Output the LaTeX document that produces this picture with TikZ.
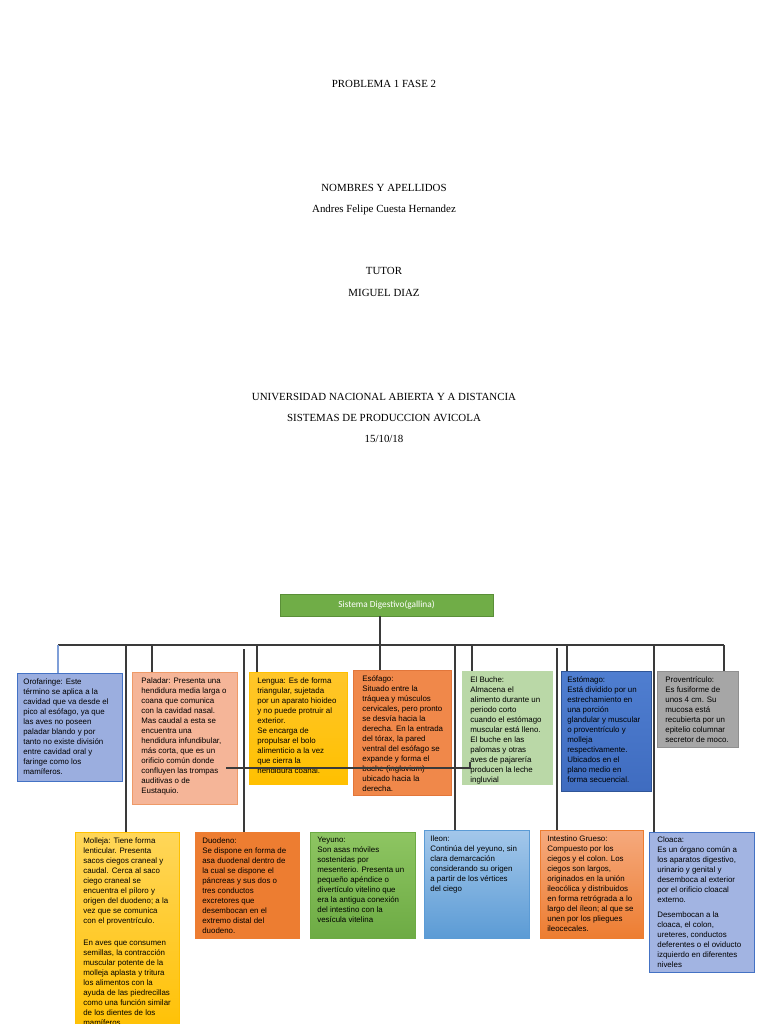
\documentclass[tikz,border=0pt]{standalone}
\usepackage{fontspec}
\setmainfont{Liberation Serif}
\setsansfont{Liberation Sans}
\newfontfamily\calibfont{Carlito}
\usetikzlibrary{positioning}

\definecolor{lineg}{HTML}{3A3A3A}
\definecolor{oroline}{HTML}{7F9FD8}
\definecolor{rootfill}{HTML}{70AD47}
\definecolor{rootline}{HTML}{5A8F38}
\definecolor{orofill}{HTML}{9BAEDF}
\definecolor{blueline}{HTML}{4472C4}
\definecolor{palfill}{HTML}{F5B598}
\definecolor{palline}{HTML}{EE9A68}
\definecolor{goldtop}{HTML}{FFC62A}
\definecolor{goldbot}{HTML}{FFC000}
\definecolor{molltop}{HTML}{FFD659}
\definecolor{esofill}{HTML}{F0884A}
\definecolor{esoline}{HTML}{E2763A}
\definecolor{bucfill}{HTML}{BAD8A7}
\definecolor{esttop}{HTML}{4F7ED0}
\definecolor{estbot}{HTML}{3F6CC0}
\definecolor{estline}{HTML}{2F5597}
\definecolor{profill}{HTML}{A6A6A6}
\definecolor{proline}{HTML}{909090}
\definecolor{duofill}{HTML}{ED7D31}
\definecolor{yeytop}{HTML}{8EC562}
\definecolor{yeybot}{HTML}{6DAB44}
\definecolor{iletop}{HTML}{A3C7EA}
\definecolor{ilebot}{HTML}{5B9BD5}
\definecolor{inttop}{HTML}{F5A97D}
\definecolor{intbot}{HTML}{ED7D31}
\definecolor{clofill}{HTML}{A2B4E2}

\begin{document}
\begin{tikzpicture}[x=0.02cm,y=-0.02cm,
  box/.style={draw,anchor=north west,inner sep=0,line width=0.5pt},
  note/.style={anchor=north west,inner sep=0,align=left,
    font=\sffamily\fontsize{4.5}{5.7}\selectfont},
  head/.style={anchor=base,inner sep=0,font=\fontsize{6.2}{7}\selectfont},
  link/.style={draw=lineg,line width=0.6pt}]

  \fill[white] (0,0) rectangle (768,1024);
  \useasboundingbox (0,0) rectangle (768,1024);

  % portada
  \node[head] (prob) at (384,87.6) {PROBLEMA 1 FASE 2};
  \node[head] (nomb) at (384,191.6) {NOMBRES Y APELLIDOS};
  \node[head] (alum) at (384,212.5) {Andres Felipe Cuesta Hernandez};
  \node[head] (tuto) at (384,274.6) {TUTOR};
  \node[head] (prof) at (384,296.6) {MIGUEL DIAZ};
  \node[head] (univ) at (384,400.6) {UNIVERSIDAD NACIONAL ABIERTA Y A DISTANCIA};
  \node[head] (curs) at (384,421.6) {SISTEMAS DE PRODUCCION AVICOLA};
  \node[head] (fech) at (384,442.6) {15/10/18};

  % raiz
  \node[box,fill=rootfill,draw=rootline,minimum width=4.26cm,minimum height=0.44cm,
    text=white,font=\calibfont\fontsize{5.3}{6}\selectfont,anchor=center]
    (root) at (386.5,605) {Sistema Digestivo(gallina)};

  % primera fila
  \node[box,fill=orofill,draw=blueline,minimum width=2.10cm,minimum height=2.16cm] (oro) at (17,673) {};
  \node[note] at ([shift={(6,5)}]oro.north west) {Orofaringe: Este\\término se aplica a la\\cavidad que va desde el\\pico al esófago, ya que\\las aves no poseen\\paladar blando y por\\tanto no existe división\\entre cavidad oral y\\faringe como los\\mamíferos.};

  \node[box,fill=palfill,draw=palline,minimum width=2.10cm,minimum height=2.64cm] (pal) at (132,672) {};
  \node[note] at ([shift={(9,5)}]pal.north west) {Paladar: Presenta una\\hendidura media larga o\\coana que comunica\\con la cavidad nasal.\\Mas caudal a esta se\\encuentra una\\hendidura infundibular,\\más corta, que es un\\orificio común donde\\confluyen las trompas\\auditivas o de\\Eustaquio.};

  \node[box,top color=goldtop,bottom color=goldbot,draw=goldbot,minimum width=1.96cm,minimum height=2.24cm] (len) at (249,672) {};
  \node[note] at ([shift={(8,5)}]len.north west) {Lengua: Es de forma\\triangular, sujetada\\por un aparato hioideo\\y no puede protruir al\\exterior.\\Se encarga de\\propulsar el bolo\\alimenticio a la vez\\que cierra la\\hendidura coanal.};

  \node[box,fill=esofill,draw=esoline,minimum width=1.96cm,minimum height=2.50cm] (eso) at (353,670) {};
  \node[note] at ([shift={(9,5)}]eso.north west) {Esófago:\\Situado entre la\\tráquea y músculos\\cervicales, pero pronto\\se desvía hacia la\\derecha. En la entrada\\del tórax, la pared\\ventral del esófago se\\expande y forma el\\buche (ingluvium)\\ubicado hacia la\\derecha.};

  \node[box,fill=bucfill,draw=bucfill,minimum width=1.80cm,minimum height=2.26cm] (buc) at (462,671) {};
  \node[note] at ([shift={(8,5)}]buc.north west) {El Buche:\\Almacena el\\alimento durante un\\periodo corto\\cuando el estómago\\muscular está lleno.\\El buche en las\\palomas y otras\\aves de pajarería\\producen la leche\\ingluvial};

  \node[box,top color=esttop,bottom color=estbot,draw=estline,minimum width=1.80cm,minimum height=2.40cm] (est) at (561,671) {};
  \node[note] at ([shift={(6,5)}]est.north west) {Estómago:\\Está dividido por un\\estrechamiento en\\una porción\\glandular y muscular\\o proventrículo y\\molleja\\respectivamente.\\Ubicados en el\\plano medio en\\forma secuencial.};

  \node[box,fill=profill,draw=proline,minimum width=1.62cm,minimum height=1.52cm] (pro) at (657,671) {};
  \node[note] at ([shift={(8,5)}]pro.north west) {Proventrículo:\\Es fusiforme de\\unos 4 cm. Su\\mucosa está\\recubierta por un\\epitelio columnar\\secretor de moco.};

  % segunda fila
  \node[box,top color=molltop,bottom color=goldbot,draw=goldbot,minimum width=2.08cm,minimum height=4.16cm] (mol) at (75,832) {};
  \node[note] at ([shift={(8,5)}]mol.north west) {Molleja: Tiene forma\\lenticular. Presenta\\sacos ciegos craneal y\\caudal. Cerca al saco\\ciego craneal se\\encuentra el píloro y\\origen del duodeno; a la\\vez que se comunica\\con el proventrículo.\\[7pt]En aves que consumen\\semillas, la contracción\\muscular potente de la\\molleja aplasta y tritura\\los alimentos con la\\ayuda de las piedrecillas\\como una función similar\\de los dientes de los\\mamíferos.};

  \node[box,fill=duofill,draw=duofill,minimum width=2.08cm,minimum height=2.12cm] (duo) at (195,832) {};
  \node[note] at ([shift={(7,5)}]duo.north west) {Duodeno:\\Se dispone en forma de\\asa duodenal dentro de\\la cual se dispone el\\páncreas y sus dos o\\tres conductos\\excretores que\\desembocan en el\\extremo distal del\\duodeno.};

  \node[box,top color=yeytop,bottom color=yeybot,draw=yeybot,minimum width=2.10cm,minimum height=2.12cm] (yey) at (310,832) {};
  \node[note] at ([shift={(7,5)}]yey.north west) {Yeyuno:\\Son asas móviles\\sostenidas por\\mesenterio. Presenta un\\pequeño apéndice o\\divertículo vitelino que\\era la antigua conexión\\del intestino con la\\vesícula vitelina};

  \node[box,top color=iletop,bottom color=ilebot,draw=ilebot,minimum width=2.10cm,minimum height=2.16cm] (ile) at (424,830) {};
  \node[note] at ([shift={(6,5)}]ile.north west) {Ileon:\\Continúa del yeyuno, sin\\clara demarcación\\considerando su origen\\a partir de los vértices\\del ciego};

  \node[box,top color=inttop,bottom color=intbot,draw=intbot,minimum width=2.06cm,minimum height=2.16cm] (int) at (540,830) {};
  \node[note] at ([shift={(7,5)}]int.north west) {Intestino Grueso:\\Compuesto por los\\ciegos y el colon. Los\\ciegos son largos,\\originados en la unión\\ileocólica y distribuidos\\en forma retrógrada a lo\\largo del íleon; al que se\\unen por los pliegues\\ileocecales.};

  \node[box,fill=clofill,draw=blueline,minimum width=2.10cm,minimum height=2.80cm] (clo) at (649,832) {};
  \node[note] at ([shift={(8,4)}]clo.north west) {Cloaca:\\Es un órgano común a\\los aparatos digestivo,\\urinario y genital y\\desemboca al exterior\\por el orificio cloacal\\externo.\\[3pt]Desembocan a la\\cloaca, el colon,\\ureteres, conductos\\deferentes o el oviducto\\izquierdo en diferentes\\niveles};

  % conectores
  \coordinate (stem) at (380,616);
  \draw[link] (stem) -- (stem |- eso.north);
  \coordinate (busL) at (58,645);
  \coordinate (busR) at (724,645);
  \draw[link] (busL) -- (busR);
  \draw[link,draw=oroline] (busL) -- (busL |- oro.north);
  \foreach \x/\b in {152/pal,257/len,472/buc,567/est,724/pro}{
    \coordinate (tap) at (\x,645);
    \draw[link] (tap) -- (tap |- \b.north);
  }
  \foreach \x/\t/\b in {126/645/mol,244/649/duo,455/645/ile,557/648/int,654/645/clo}{
    \coordinate (tap) at (\x,\t);
    \draw[link,line width=0.7pt] (tap) -- (tap |- \b.north);
  }
  \coordinate (crossL) at (226,768);
  \coordinate (crossR) at (470,768);
  \draw[link] (crossL) -- (crossR) -- ++(0,-6);
\end{tikzpicture}
\end{document}
